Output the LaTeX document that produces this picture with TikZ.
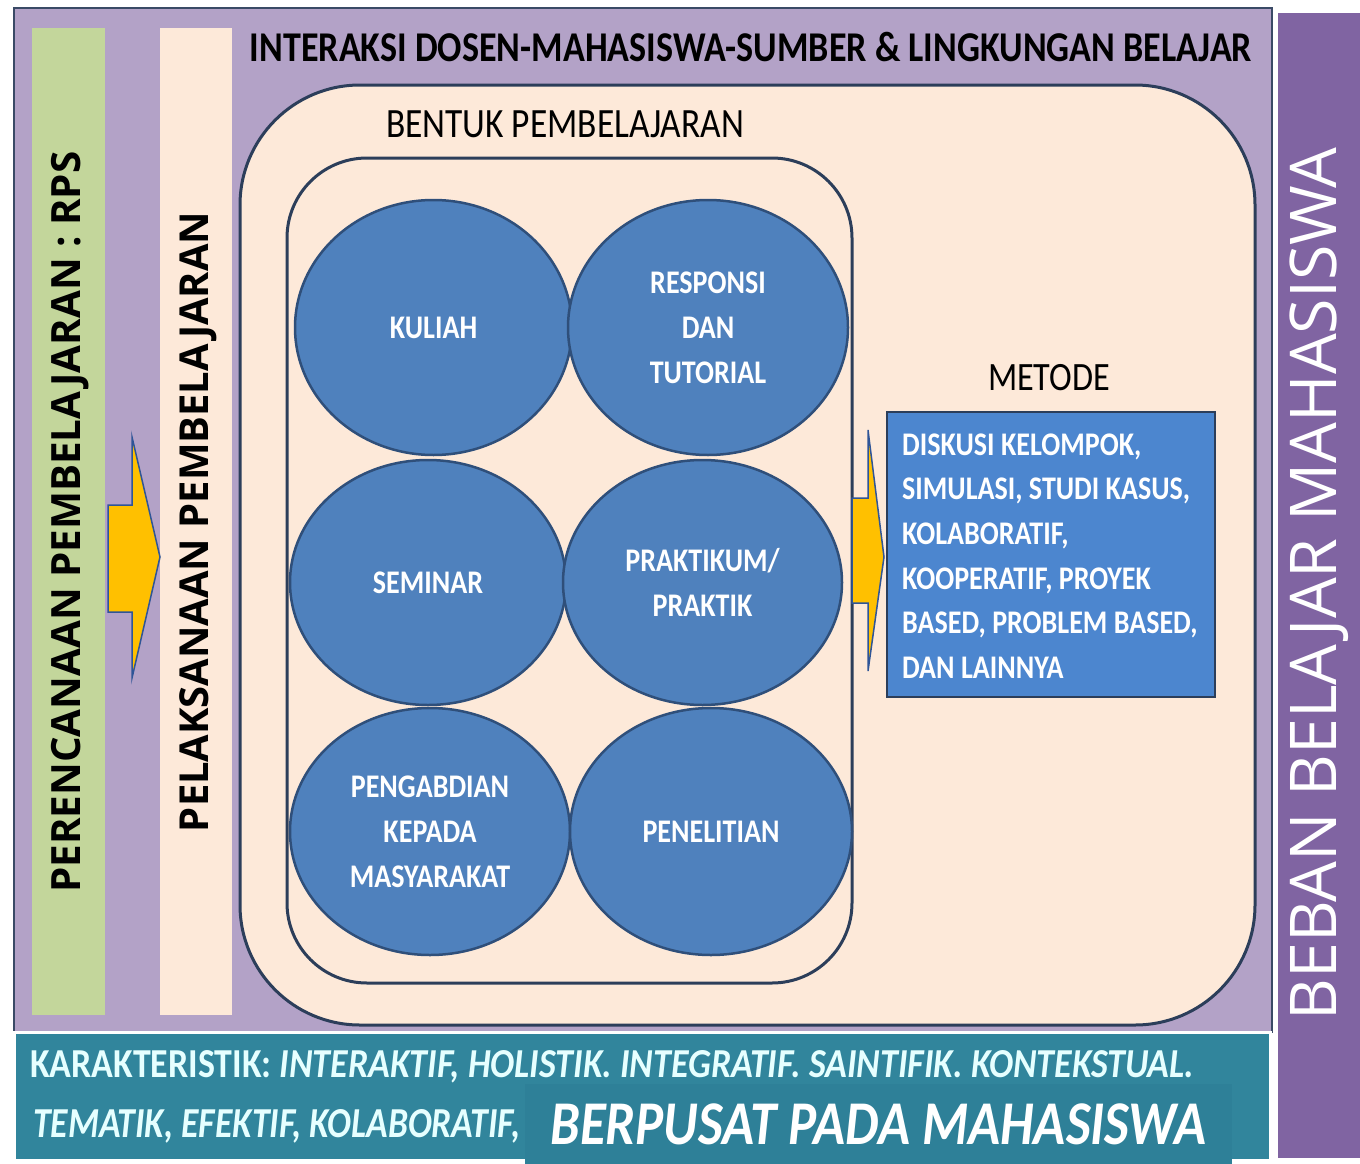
\documentclass[tikz,border=0pt]{standalone}
\usepackage{fontspec}
\usepackage{graphicx}
\usetikzlibrary{shapes.geometric}
\setmainfont[FakeStretch=0.85]{Carlito}
\newfontfamily\osans{Open Sans}
\newcommand\fitw[2]{\resizebox{#1}{!}{#2}}
\newcommand\fitwh[3]{\resizebox{#1}{#2}{#3}}
\definecolor{lav}{HTML}{B3A2C7}
\definecolor{framec}{HTML}{3A4A66}
\definecolor{grn}{HTML}{C3D69B}
\definecolor{crm}{HTML}{FDE9D9}
\definecolor{ellf}{HTML}{4F81BD}
\definecolor{elld}{HTML}{2F4F7A}
\definecolor{metf}{HTML}{4C86CF}
\definecolor{yel}{HTML}{FFC000}
\definecolor{arrd}{HTML}{2F5597}
\definecolor{teal}{HTML}{31859C}
\definecolor{teal2}{HTML}{2E8098}
\definecolor{purp}{HTML}{8064A2}
\definecolor{cyanw}{HTML}{E6FFFF}
\definecolor{rrd}{HTML}{2C3E5A}
\begin{document}
\begin{tikzpicture}[x=1pt,y=-1pt,
  txt/.style={inner sep=0pt, text=black},
  ellbox/.style={ellipse, draw=elld, line width=2.5pt, fill=ellf, inner sep=0pt,
    text=white, align=center, font=\fontsize{33}{45}\selectfont\bfseries},
  blockarrow/.style={fill=yel, draw=arrd, line width=1.5pt, line join=miter},
  roundbox/.style={draw=rrd, line width=3pt, fill=crm, inner sep=0pt}
]
\useasboundingbox (0,0) rectangle (1360,1164);
\fill[white] (0,0) rectangle (1360,1164);

% outer lavender frame
\node[draw=framec, line width=2pt, fill=lav, inner sep=0pt, minimum width=1258pt, minimum height=1024pt] (frame) at (643,520) {};
% side bars
\node[fill=grn, inner sep=0pt, minimum width=73pt, minimum height=987pt] (plan) at (68.5,521.5) {};
\node[fill=crm, inner sep=0pt, minimum width=72pt, minimum height=987pt] (pelak) at (196,521.5) {};
\node[txt, rotate=90, font=\osans\bfseries\fontsize{34}{34}\selectfont] (plantxt) at (70,522) {\fitw{741pt}{PERENCANAAN PEMBELAJARAN : RPS}};
\node[txt, rotate=90, font=\osans\bfseries\fontsize{36}{36}\selectfont] (pelaktxt) at (198,522) {\fitw{620pt}{PELAKSANAAN PEMBELAJARAN}};

% small arrow
\coordinate (a1) at (108,505);
\draw[blockarrow] (a1) -- (132,505) -- (132,437) -- (160,557) -- (132,678) -- (132,612) -- (108,612) -- cycle;

% title
\node[txt, anchor=base, font=\fontsize{43}{43}\selectfont\bfseries] (title) at (751,62) {\fitw{1002pt}{INTERAKSI DOSEN-MAHASISWA-SUMBER \& LINGKUNGAN BELAJAR}};

% big rounded box
\node[roundbox, rounded corners=120pt, minimum width=1015pt, minimum height=940pt] (interaksi) at (747.5,555) {};
\node[txt, anchor=base, font=\fontsize{40}{40}\selectfont] (bentuk) at (565,137) {\fitw{358pt}{BENTUK PEMBELAJARAN}};
% inner rounded box
\node[roundbox, rounded corners=80pt, minimum width=565pt, minimum height=825pt] (inner) at (569.5,570.5) {};

% ellipses
\node[ellbox, minimum width=277pt, minimum height=255pt] (kuliah) at (433.5,327.5) {KULIAH};
\node[ellbox, minimum width=280pt, minimum height=255pt] (responsi) at (708,327.5) {RESPONSI\\DAN\\TUTORIAL};
\node[ellbox, minimum width=276pt, minimum height=245pt] (seminar) at (428,582.5) {SEMINAR};
\node[ellbox, minimum width=279pt, minimum height=245pt] (praktikum) at (702.5,582.5) {PRAKTIKUM/\\PRAKTIK};
\node[ellbox, minimum width=280pt, minimum height=247pt] (pengabdian) at (430,831.5) {PENGABDIAN\\KEPADA\\MASYARAKAT};
\node[ellbox, minimum width=282pt, minimum height=247pt] (penelitian) at (711,831.5) {PENELITIAN};

% right arrow
\draw[blockarrow] (852,498) -- (868,498) -- (868,430) -- (884,557) -- (868,671) -- (868,603) -- (852,603) -- cycle;

% metode
\node[txt, anchor=base, font=\fontsize{40}{40}\selectfont] (metodelbl) at (1049,390) {\fitw{122pt}{METODE}};
\node[draw=rrd, line width=2pt, fill=metf, inner sep=0pt, minimum width=328pt, minimum height=285pt] (metode) at (1051,554.5) {};
\node[txt, anchor=west, text=white, align=left, font=\fontsize{33}{44.6}\selectfont\bfseries] (metodetxt) at (902,556) {DISKUSI KELOMPOK,\\SIMULASI, STUDI KASUS,\\KOLABORATIF,\\KOOPERATIF, PROYEK\\BASED, PROBLEM BASED,\\DAN LAINNYA};

% right purple bar
\node[fill=purp, inner sep=0pt, minimum width=82pt, minimum height=1145pt] (beban) at (1319,585.5) {};
\node[txt, rotate=90, text=white, font=\osans\fontsize{58}{58}\selectfont] (bebantxt) at (1319,584) {\fitw{873pt}{BEBAN BELAJAR MAHASISWA}};

% bottom band
\node[fill=teal, draw=white, line width=3pt, inner sep=0pt, minimum width=1256pt, minimum height=128pt] (band) at (642,1096) {};
\node[txt, anchor=base west, text=cyanw, font=\fontsize{42}{42}\selectfont\bfseries] (kar1) at (30,1077) {\fitwh{1164pt}{27pt}{KARAKTERISTIK: \itshape INTERAKTIF, HOLISTIK. INTEGRATIF. SAINTIFIK. KONTEKSTUAL.}};
\node[txt, anchor=base west, text=cyanw, font=\fontsize{42}{42}\selectfont\bfseries\itshape] (kar2) at (33,1137) {\fitwh{487pt}{28pt}{TEMATIK, EFEKTIF, KOLABORATIF,}};
\node[fill=teal2, inner sep=0pt, minimum width=707pt, minimum height=80pt, text=white, font=\fontsize{50}{50}\selectfont\bfseries\itshape] (berpusat) at (878.5,1124) {\fitw{656pt}{BERPUSAT PADA MAHASISWA}};
\end{tikzpicture}
\end{document}
